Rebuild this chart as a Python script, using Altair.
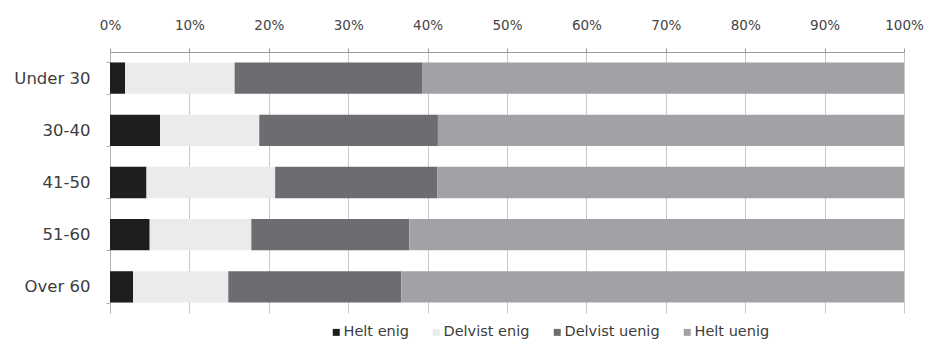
import altair as alt
import pandas as pd

groups = ["Under 30", "30-40", "41-50", "51-60", "Over 60"]
answers = ["Helt enig", "Delvist enig", "Delvist uenig", "Helt uenig"]
helt_enig = [1.9, 6.3, 4.6, 5.0, 2.9]
delvist_enig = [13.8, 12.5, 16.2, 12.8, 12.0]
delvist_uenig = [23.6, 22.5, 20.4, 19.9, 21.8]
helt_uenig = [60.7, 58.7, 58.8, 62.3, 63.3]
colors = ["#1f1e1e", "#ebebeb", "#6c6d70", "#a1a2a5"]

series = [helt_enig, delvist_enig, delvist_uenig, helt_uenig]
rows = []
for ai, (a, vals) in enumerate(zip(answers, series)):
    for g, v in zip(groups, vals):
        rows.append({"group": g, "answer": a, "value": v / 100.0, "ord": ai})
df = pd.DataFrame(rows)

FONT = "DejaVu Sans"

chart = alt.Chart(df).mark_bar().encode(
    y=alt.Y("group:N", sort=groups, title=None,
            scale=alt.Scale(paddingInner=0.4, paddingOuter=0.2),
            axis=alt.Axis(tickBand="extent", labelFontSize=16.5, labelColor="#3d3d3d",
                          labelPadding=16, domainColor="#b8b8b8", tickColor="#b0b0b0",
                          tickSize=4, labelFont=FONT)),
    x=alt.X("value:Q", stack="zero", title=None,
            scale=alt.Scale(domain=[0, 1], nice=False),
            axis=alt.Axis(orient="top", format=".0%", values=[i / 10 for i in range(11)],
                          labelFontSize=13.5, labelColor="#444444", labelPadding=16,
                          labelFlush=False,
                          gridColor="#c8c8c8", domainColor="#9a9a9a", tickColor="#9a9a9a",
                          tickSize=4, labelFont=FONT)),
    color=alt.Color("answer:N", sort=answers,
                    scale=alt.Scale(domain=answers, range=colors),
                    legend=alt.Legend(title=None, orient="none", direction="horizontal",
                                      legendX=219, legendY=273, symbolType="square",
                                      symbolSize=49, symbolStrokeWidth=0, labelOffset=0,
                                      labelFontSize=14.5, labelColor="#3d3d3d",
                                      columnPadding=20, labelFont=FONT)),
    order=alt.Order("ord:Q"),
).properties(
    width=794, height=261,
    autosize=alt.AutoSizeParams(type="none"),
    padding={"left": 110, "top": 52, "right": 25, "bottom": 29},
).configure_view(stroke=None).configure_axis(grid=True)

chart = chart.configure_axisY(grid=False)

chart.save("out.html", embed_options={"renderer": "svg", "actions": False})
